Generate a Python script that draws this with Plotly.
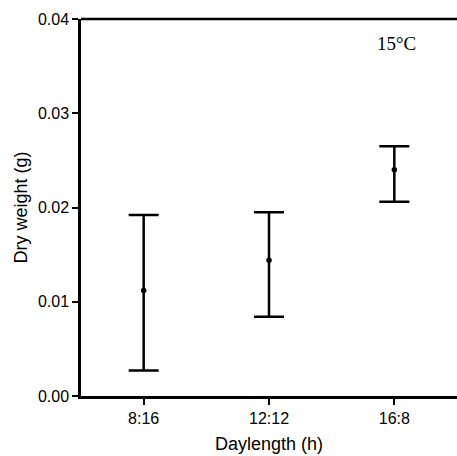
import plotly.graph_objects as go

# --- Data ---
daylength = ["8:16", "12:12", "16:8"]
dry_weight_mean = [0.0112, 0.0144, 0.0240]
dry_weight_upper = [0.0192, 0.0195, 0.0265]
dry_weight_lower = [0.0027, 0.0084, 0.0206]

err_plus = [u - m for u, m in zip(dry_weight_upper, dry_weight_mean)]
err_minus = [m - l for m, l in zip(dry_weight_mean, dry_weight_lower)]

fig = go.Figure()

fig.add_trace(go.Scatter(
    x=[0, 1, 2], y=dry_weight_mean,
    mode="markers",
    marker=dict(color="black", size=5.5),
    error_y=dict(
        type="data", symmetric=False,
        array=err_plus, arrayminus=err_minus,
        color="black", thickness=2.5, width=15
    ),
    showlegend=False
))

# top frame line (no right-hand line in the original)
fig.add_shape(type="line", xref="paper", yref="paper",
              x0=0, x1=1, y0=1, y1=1, line=dict(color="black", width=2.5))

fig.add_annotation(
    x=0.895, y=0.936, xref="paper", yref="paper",
    text="15°C", showarrow=False, xanchor="right", yanchor="middle",
    font=dict(family="Liberation Serif", size=19, color="black")
)

fig.update_layout(
    width=457, height=456,
    margin=dict(l=81, r=0, t=19, b=60),
    plot_bgcolor="white", paper_bgcolor="white",
    font=dict(family="Liberation Sans", color="black", size=16),
    xaxis=dict(
        range=[-0.5, 2.5],
        tickvals=[0, 1, 2], ticktext=daylength,
        showline=True, linecolor="black", linewidth=2.5,
        ticks="outside", ticklen=6, tickwidth=2, tickcolor="black",
        showgrid=False, zeroline=False,
        title=dict(text="Daylength (h)", font=dict(size=18), standoff=12),
        tickfont=dict(size=16)
    ),
    yaxis=dict(
        range=[0, 0.04],
        tickvals=[0, 0.01, 0.02, 0.03, 0.04],
        ticktext=["0.00", "0.01", "0.02", "0.03", "0.04"],
        showline=True, linecolor="black", linewidth=2.5,
        ticks="outside", ticklen=6, tickwidth=2, tickcolor="black",
        showgrid=False, zeroline=False,
        title=dict(text="Dry weight (g)", font=dict(size=18), standoff=6),
        tickfont=dict(size=16)
    )
)

# drop the default page margin so the figure sits at the window's corner
fig.write_html("out.html", config={"displayModeBar": False},
               post_script="document.body.style.margin='0';")
